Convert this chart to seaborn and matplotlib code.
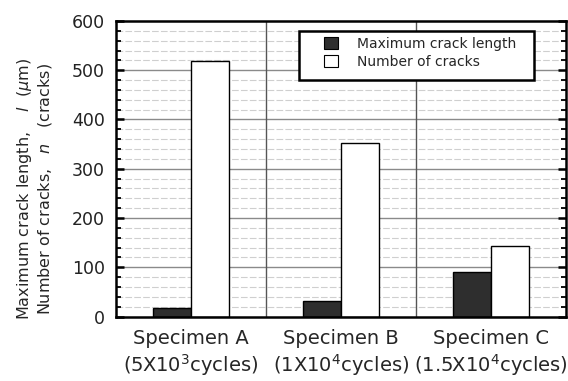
import numpy as np
import pandas as pd
import matplotlib
matplotlib.use("Agg")
import matplotlib.pyplot as plt
import seaborn as sns
from matplotlib.ticker import MultipleLocator
from matplotlib.patches import Patch, Rectangle

# Specimens and measured values
specimens = ["Specimen A\n(5X10$^3$cycles)",
             "Specimen B\n(1X10$^4$cycles)",
             "Specimen C\n(1.5X10$^4$cycles)"]
max_crack_length = [18, 31, 91]      # l (um)
number_of_cracks = [519, 352, 143]   # n (cracks)
series_names = ["Maximum crack length", "Number of cracks"]
y_ticks = [0, 100, 200, 300, 400, 500, 600]

df = pd.DataFrame({
    "specimen": specimens * 2,
    "series": [series_names[0]] * 3 + [series_names[1]] * 3,
    "value": max_crack_length + number_of_cracks,
})

sns.set_style("white")
plt.rcParams["font.family"] = ["DejaVu Sans"]

fig = plt.figure(figsize=(5.68, 3.81), dpi=100)
W, H = 568, 381
ax = fig.add_axes([116 / W, 1 - 316.5 / H, 450 / W, 295.5 / H])

palette = {series_names[0]: "#2e2e2e", series_names[1]: "#ffffff"}
sns.barplot(data=df, x="specimen", y="value", hue="series", palette=palette,
            width=0.51, edgecolor="black", linewidth=1.0, saturation=1,
            ax=ax, legend=False, zorder=3)

ax.set_xlim(-0.5, 2.5)
ax.set_ylim(0, 600)
ax.set_yticks(y_ticks)
ax.yaxis.set_minor_locator(MultipleLocator(20))
ax.set_axisbelow(False)

# horizontal grid: solid at majors, light dashed at minors
for v in np.arange(20, 600, 20):
    if v % 100 == 0:
        ax.axhline(v, color="#8a8a8a", lw=1.0, zorder=1)
    else:
        ax.axhline(v, color="#cfcfcf", lw=0.8, ls=(0, (6, 2)), zorder=1)

# separators between specimen groups
for xv in (0.5, 1.5):
    ax.axvline(xv, color="#555555", lw=1.0, zorder=2)

for s in ax.spines.values():
    s.set_linewidth(1.8)
    s.set_color("black")
    s.set_zorder(5)

ax.tick_params(axis="y", which="major", direction="in", length=6, width=1.8,
               left=True, right=True, labelsize=12.5, pad=8, colors="black")
ax.tick_params(axis="y", which="minor", direction="in", length=3.5, width=1.3,
               left=True, right=True, colors="black")
ax.tick_params(axis="x", length=0, labelsize=14, pad=9)
ax.set_xlabel("")
ax.set_ylabel("")
for lbl in ax.get_xticklabels():
    lbl.set_linespacing(1.2)
for lbl in ax.get_yticklabels():
    lbl.set_color("#222222")

fig.text(25 / W, 1 - 189 / H,
         "Maximum crack length,    $\\mathit{l}$  ($\\mu$m)",
         rotation=90, ha="center", va="center", fontsize=11.5)
fig.text(45 / W, 1 - 189 / H,
         "Number of cracks,   $\\mathit{n}$   (cracks)",
         rotation=90, ha="center", va="center", fontsize=11.5)

# legend frame drawn as a plain box, entries placed inside it
frame = Rectangle((0.4067, 0.800), 0.929 - 0.4067, 0.966 - 0.800,
                  transform=ax.transAxes, facecolor="white",
                  edgecolor="black", linewidth=1.8, zorder=6)
ax.add_patch(frame)

handles = [Patch(facecolor=palette[n], edgecolor="black", linewidth=0.8)
           for n in series_names]
leg = ax.legend(handles, series_names, loc="upper left",
                bbox_to_anchor=(0.462, 0.945), fontsize=10, frameon=False,
                handlelength=1.05, handleheight=0.95, handletextpad=1.3,
                borderpad=0, labelspacing=0.25, borderaxespad=0)
leg.set_zorder(7)

fig.savefig("out.png", dpi=100)
